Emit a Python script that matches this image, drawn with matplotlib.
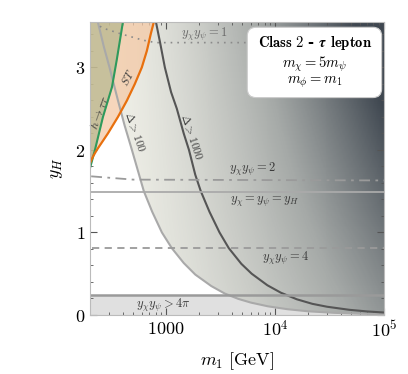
import numpy as np
import matplotlib
matplotlib.use('Agg')
import matplotlib.pyplot as plt
from matplotlib.colors import LinearSegmentedColormap
from matplotlib.patches import Polygon, FancyBboxPatch
from matplotlib.ticker import FixedLocator, FixedFormatter, LogLocator, MultipleLocator, NullFormatter

plt.rcParams['mathtext.fontset'] = 'cm'
plt.rcParams['font.family'] = 'DejaVu Serif'

# curves: (m1 [GeV], y_H)
d100_m = [236, 268, 302, 361, 415, 485, 550, 624, 745, 914, 1127, 1450, 1850, 2600, 3450, 4600, 6000,
          8600, 13000, 20000, 35000, 60000, 100000]
d100_y = [3.55, 3.25, 3.0, 2.6, 2.3, 2.0, 1.75, 1.5, 1.25, 1.0, 0.81, 0.63, 0.49, 0.35, 0.26, 0.195, 0.15,
          0.105, 0.07, 0.045, 0.026, 0.015, 0.009]

d1000_m = [806, 880, 973, 1110, 1253, 1450, 1620, 1850, 2080, 2500, 3090, 3758, 4900, 6100, 8500, 11300,
           15850, 22000, 30000, 47900, 70000, 100000]
d1000_y = [3.55, 3.3, 3.0, 2.7, 2.5, 2.2, 2.0, 1.7, 1.5, 1.25, 1.0, 0.81, 0.62, 0.5, 0.36, 0.27,
           0.19, 0.135, 0.1, 0.063, 0.043, 0.03]

htautau_m = [200, 222, 263, 318, 353, 401]
htautau_y = [1.78, 2.0, 2.4, 2.76, 3.1, 3.55]

st_m = [200, 213, 231, 292, 361, 437, 516, 598, 665, 724, 771]
st_y = [1.84, 1.92, 2.0, 2.2, 2.4, 2.6, 2.8, 3.0, 3.2, 3.41, 3.55]

yy1_m = [247, 257, 376, 611, 800, 100000]
yy1_y = [3.50, 3.48, 3.41, 3.33, 3.30, 3.30]

yy2_m = [205, 500, 100000]
yy2_y = [1.68, 1.64, 1.63]

yeq_y = 1.49
yy4_y = 0.81
y4pi_y = 0.245

xmin, xmax = 200, 1e5
ymin, ymax = 0, 3.55

fig = plt.figure(figsize=(4.08, 3.74), dpi=100)
ax = fig.add_axes([0.2206, 0.1578, 0.7206, 0.7834])
ax.set_xscale('log')
ax.set_xlim(xmin, xmax)
ax.set_ylim(ymin, ymax)

# perturbativity band
ax.fill_between([xmin, xmax], 0, y4pi_y, color='#e0e0e0', zorder=0, lw=0)

# fine-tuning shading (background gradient clipped to the Delta>100 region)
gm = np.logspace(np.log10(xmin), np.log10(xmax), 300)
gy = np.linspace(ymin, ymax, 150)
GM, GY = np.meshgrid(gm, gy)
t = np.clip((np.log10(GM) - 2.45) / 2.55, 0, 1)
frac = np.clip(t ** 1.4 * (0.6 + 0.16 * GY), 0, 1)
cmap = LinearSegmentedColormap.from_list('ft', ['#f0f0e8', '#a5a9a7', '#3f4750'])
mesh = ax.pcolormesh(GM, GY, frac, cmap=cmap, vmin=0, vmax=1, shading='auto', zorder=1, rasterized=True)
verts = list(zip(d100_m, d100_y)) + [(xmax, 0), (xmax, ymax + 0.1), (d100_m[0], ymax + 0.1)]
clip = Polygon(verts, closed=True, transform=ax.transData, facecolor='none', edgecolor='none')
ax.add_patch(clip)
mesh.set_clip_path(clip)

# excluded regions
ax.fill_betweenx(st_y + [ymax], [xmin] * (len(st_y) + 1), st_m + [st_m[-1]], color='#f4c9a6', alpha=0.75, lw=0, zorder=2)
ax.fill_betweenx(htautau_y, [xmin] * len(htautau_y), htautau_m, color='#a9b287', alpha=0.6, lw=0, zorder=2)

# lines
ax.plot(d100_m, d100_y, color='#a9a9a9', lw=1.5, zorder=3)
ax.plot(d1000_m, d1000_y, color='#555555', lw=1.5, zorder=3)
ax.plot(htautau_m, htautau_y, color='#2e9a5c', lw=1.5, zorder=3)
ax.plot(st_m, st_y, color='#e8700e', lw=1.6, zorder=3)
ax.plot(yy1_m, yy1_y, color='#8a8a8a', lw=1.2, ls=(0, (1, 3)), zorder=3)
ax.plot(yy2_m, yy2_y, color='#9a9a9a', lw=1.3, ls=(0, (6, 3, 1.5, 3)), zorder=3)
ax.plot([xmin, xmax], [yeq_y, yeq_y], color='#aaaaaa', lw=1.3, zorder=3)
ax.plot([210, xmax], [yy4_y, yy4_y], color='#9a9a9a', lw=1.3, ls=(0, (4, 3)), zorder=3)
ax.plot([xmin, xmax], [y4pi_y, y4pi_y], color='#9a9a9a', lw=1.8, zorder=3)

# curve labels
tc = '#3c3c3c'
ax.text(2218, 3.40, r'$y_\chi y_\psi = 1$', color='#6a6a6a', fontsize=9, ha='center', va='center', zorder=4)
ax.text(6240, 1.76, r'$y_\chi y_\psi = 2$', color=tc, fontsize=9, ha='center', va='center', zorder=4)
ax.text(8040, 1.37, r'$y_\chi = y_\psi = y_H$', color=tc, fontsize=9, ha='center', va='center', zorder=4)
ax.text(12530, 0.69, r'$y_\chi y_\psi = 4$', color=tc, fontsize=9, ha='center', va='center', zorder=4)
ax.text(933, 0.12, r'$y_\chi y_\psi > 4\pi$', color=tc, fontsize=9, ha='center', va='center', zorder=4)
ax.text(516, 2.22, r'$\Delta > 100$', color=tc, fontsize=8.5, ha='center', va='center', rotation=-71, zorder=4)
ax.text(1700, 2.15, r'$\Delta > 1000$', color=tc, fontsize=8.5, ha='center', va='center', rotation=-72, zorder=4)
ax.text(247, 2.46, r'$h\to\tau\tau$', color=tc, fontsize=8.5, ha='center', va='center', rotation=70, zorder=4)
ax.text(446, 2.87, r'$ST$', color=tc, fontsize=8.5, ha='center', va='center', rotation=62, zorder=4)

# info box
box = FancyBboxPatch((0.545, 0.752), 0.437, 0.22, boxstyle='round,pad=0.01,rounding_size=0.03',
                     transform=ax.transAxes, facecolor='white', edgecolor='#cccccc', lw=0.8, zorder=5)
ax.add_patch(box)
ax.text(0.764, 0.928, r'$\mathbf{Class\ 2}$ - $\boldsymbol{\tau}$ $\mathbf{lepton}$', transform=ax.transAxes,
        fontsize=10.5, fontweight='bold', ha='center', va='center', zorder=6)
ax.text(0.764, 0.857, r'$m_\chi = 5 m_\psi$', transform=ax.transAxes, fontsize=10.5, ha='center', va='center', zorder=6)
ax.text(0.764, 0.795, r'$m_\phi = m_1$', transform=ax.transAxes, fontsize=10.5, ha='center', va='center', zorder=6)

# ticks
ax.xaxis.set_major_locator(FixedLocator([1000, 1e4, 1e5]))
ax.xaxis.set_major_formatter(FixedFormatter([r'$1000$', r'$10^4$', r'$10^5$']))
ax.xaxis.set_minor_locator(LogLocator(base=10, subs=np.arange(2, 10)))
ax.xaxis.set_minor_formatter(NullFormatter())
ax.yaxis.set_major_locator(FixedLocator([0, 1, 2, 3]))
ax.yaxis.set_major_formatter(FixedFormatter([r'$0$', r'$1$', r'$2$', r'$3$']))
ax.yaxis.set_minor_locator(MultipleLocator(0.2))
ax.tick_params(which='both', direction='in', top=True, right=True, color='#555555', labelsize=13)
ax.tick_params(which='major', length=5, width=0.8)
ax.tick_params(which='minor', length=2.5, width=0.6)
for sp in ax.spines.values():
    sp.set_color('#bbbbbb')
    sp.set_zorder(7)

ax.set_xlabel(r'$m_1\ [\mathrm{GeV}]$', fontsize=13)
ax.set_ylabel(r'$y_H$', fontsize=13)
ax.xaxis.set_label_coords(0.5, -0.12)
ax.yaxis.set_label_coords(-0.085, 0.5)

plt.savefig('out.png', dpi=100)
